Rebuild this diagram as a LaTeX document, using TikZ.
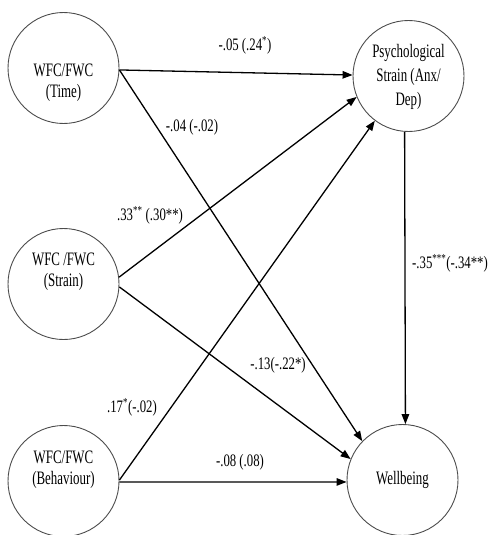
\documentclass[tikz,border=0pt]{standalone}
\usepackage{fontspec}
\setmainfont{Liberation Serif}
\newfontfamily\nodefont{Liberation Serif}[FakeStretch=0.68]
\newfontfamily\labfont{Liberation Serif}[FakeStretch=0.73]
\usetikzlibrary{arrows.meta}
\begin{document}
\begin{tikzpicture}[x=1pt,y=-1pt,
  latent/.style={circle,draw=black!70,line width=0.9pt,minimum size=111pt,inner sep=0pt},
  ntext/.style={font=\nodefont\fontsize{19}{21}\selectfont,align=center,inner sep=0pt},
  pathline/.style={draw=black,line width=1.3pt,-{Triangle[length=10pt,width=7.5pt]}},
  coef/.style={font=\labfont\fontsize{17.5}{20}\selectfont,inner sep=0pt}]
\useasboundingbox (0,0) rectangle (488,535);
% latent variables
\node[latent] (time)   at (63.5,68)  {};
\node[latent] (strain) at (63.5,284) {};
\node[latent] (behav)  at (63.5,481) {};
\node[latent] (psych)  at (408.5,76) {};
\node[latent] (wb)     at (402.5,480) {};
% texts
\node[ntext] (ttime)   at (63.5,82.5) {WFC/FWC\\(Time)};
\node[ntext] (tstrain) at (63.5,272)  {WFC /FWC\\(Strain)};
\node[ntext] (tbehav)  at (63.5,470)  {WFC/FWC\\(Behaviour)};
\node[ntext,font=\nodefont\fontsize{19}{24}\selectfont] (tpsych) at (408.5,76.5) {Psychological\\Strain (Anx/\\Dep)};
\node[ntext] (twb)     at (402.5,480) {Wellbeing};
% paths
\draw[pathline] (time.-2)   -- (psych.179);
\draw[pathline] (time.-2)   -- (wb.136);
\draw[pathline] (strain.7)  -- (psych.202.6);
\draw[pathline] (strain.-3) -- (wb.158);
\draw[pathline] (behav.1)   -- (psych.233);
\draw[pathline] (behav.-1)  -- (wb.182);
\draw[pathline] (psych.266.4) -- (wb.87.4);
% coefficients
\node[coef] (c1) at (245,45)  {-.05 (.24\textsuperscript{*})};
\node[coef] (c2) at (192,127) {-.04 (-.02)};
\node[coef] (c3) at (150,215) {.33\textsuperscript{**} (.30**)};
\node[coef] (c4) at (450,263) {-.35\textsuperscript{***}(-.34**)};
\node[coef] (c5) at (278,365) {-.13(-.22*)};
\node[coef] (c6) at (132,407) {.17\textsuperscript{*}(-.02)};
\node[coef] (c7) at (240,462) {-.08 (.08)};
\end{tikzpicture}
\end{document}
